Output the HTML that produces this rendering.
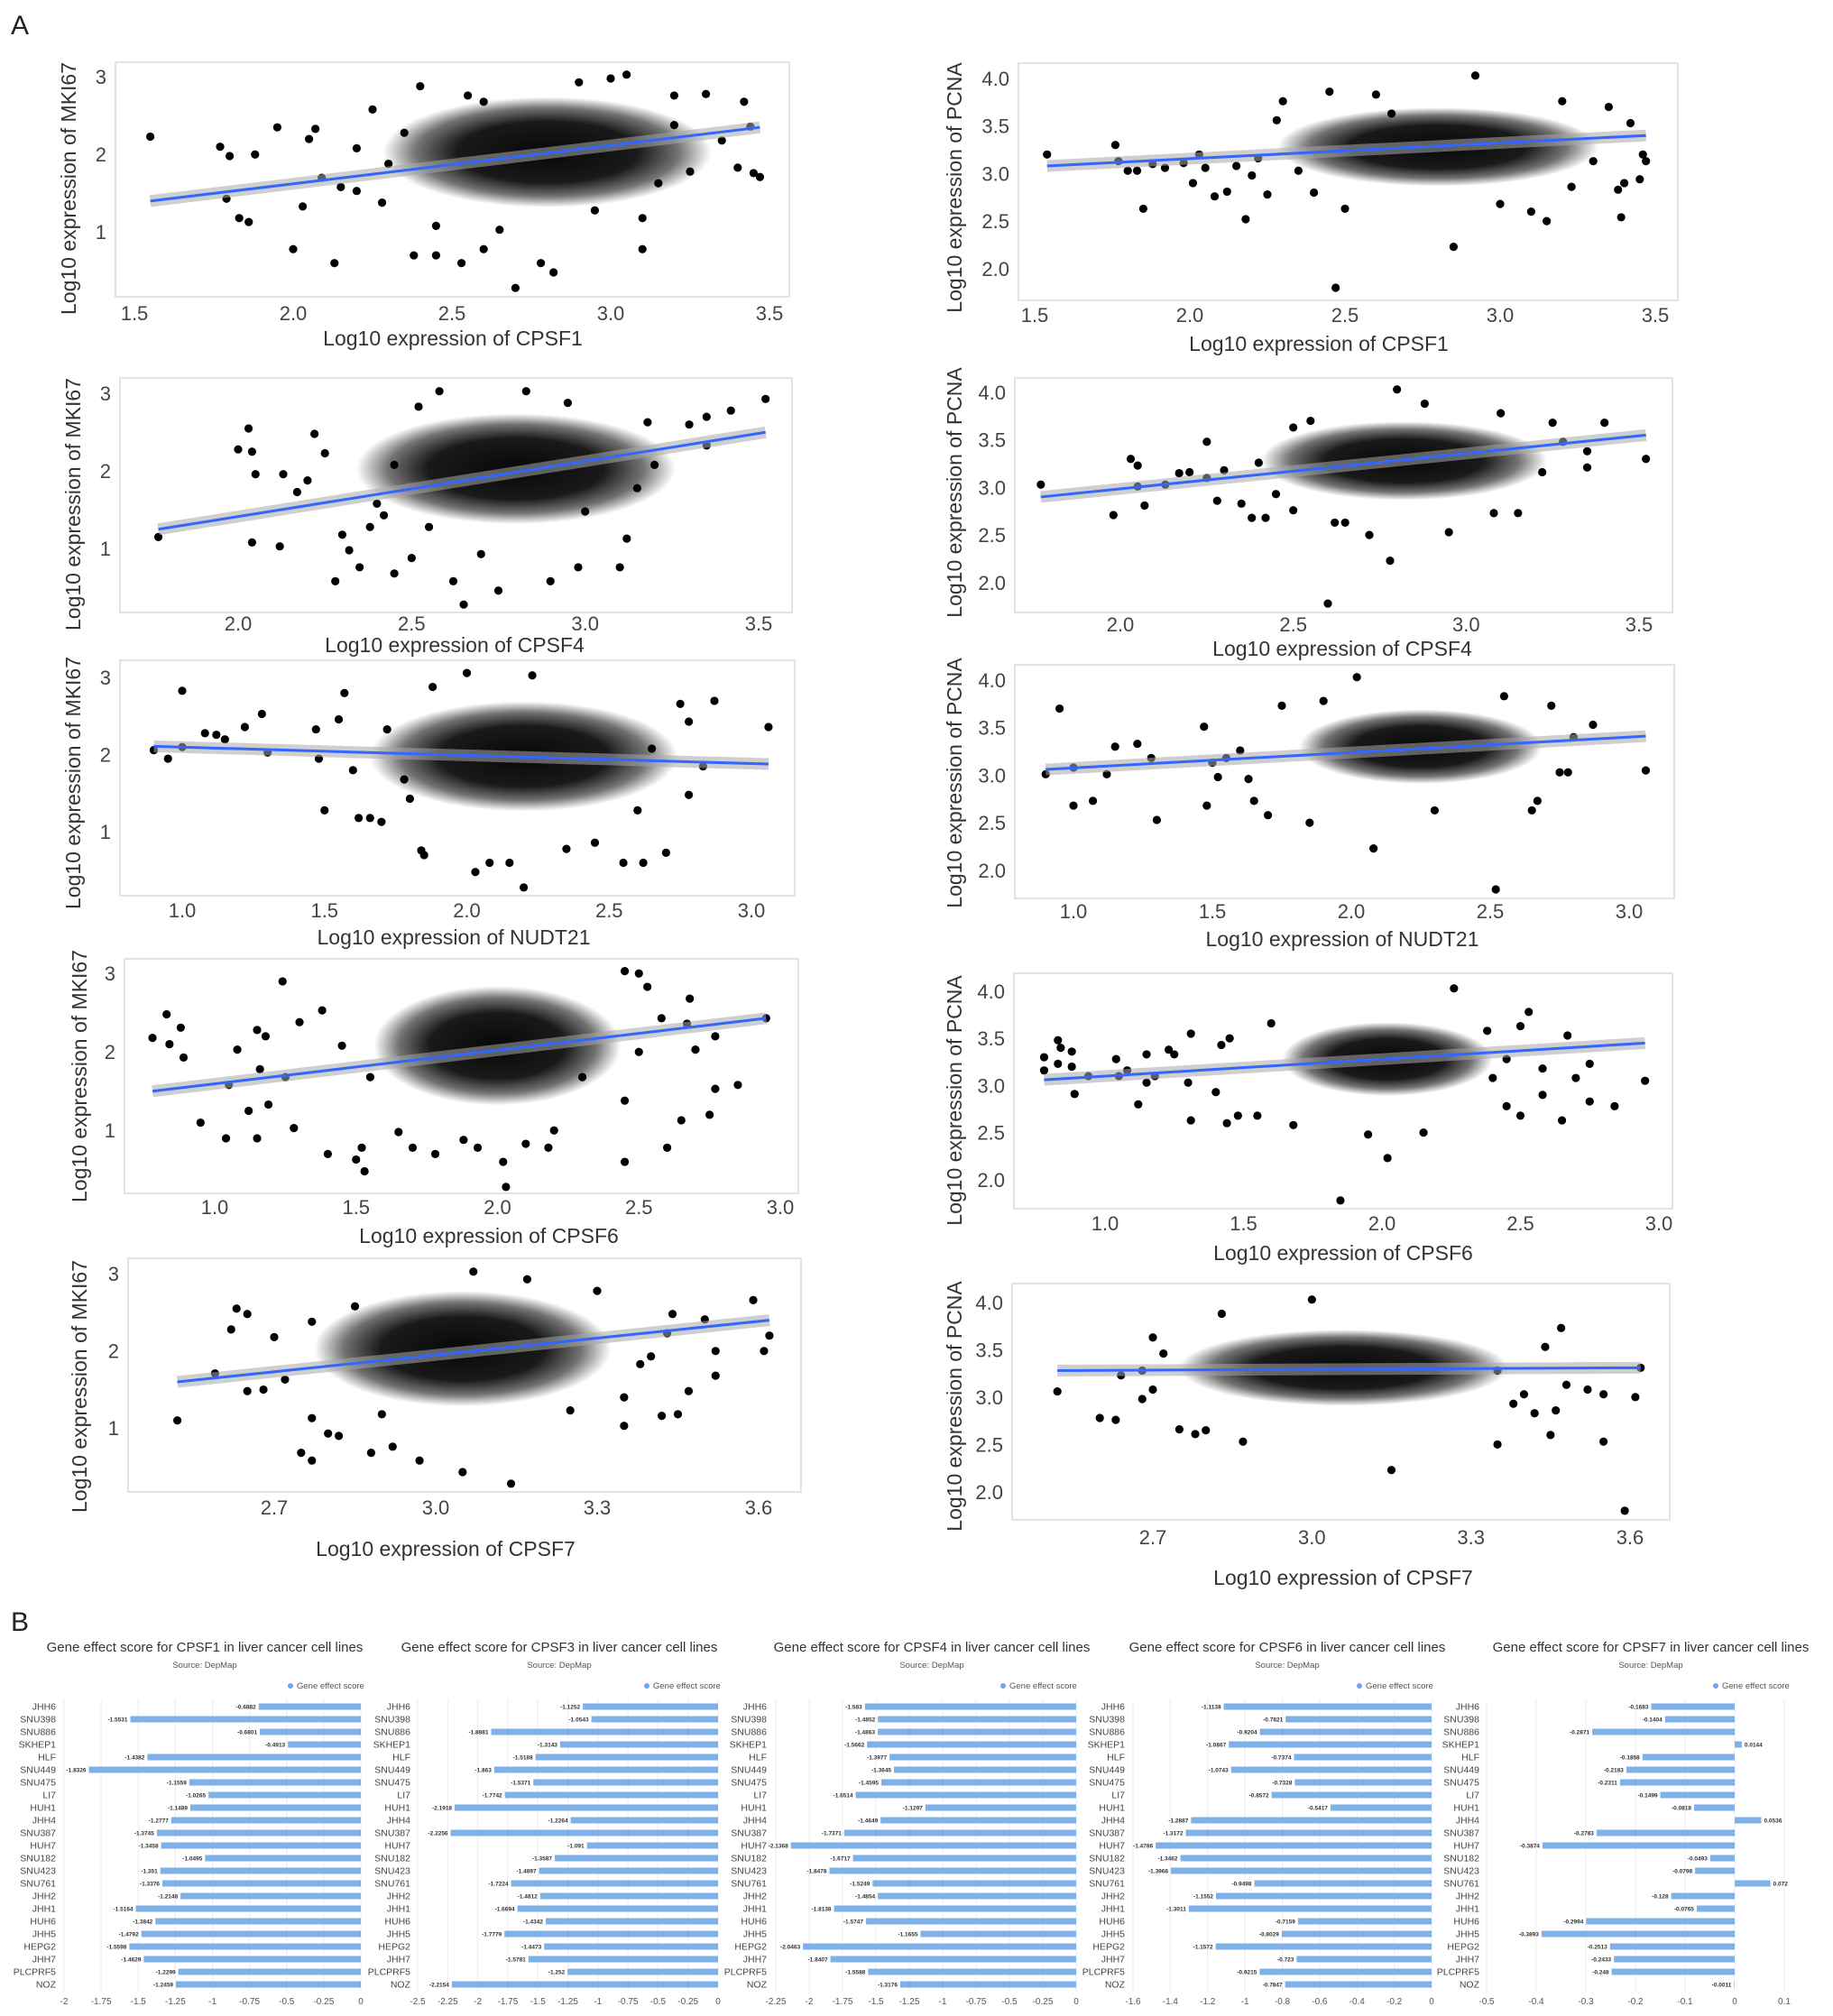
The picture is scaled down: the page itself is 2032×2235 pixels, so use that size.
<!DOCTYPE html>
<html><head><meta charset="utf-8">
<style>
html,body{margin:0;padding:0;background:#fff;}
svg{display:block;font-family:"Liberation Sans",Arial,sans-serif;}
</style></head>
<body>
<svg id="fig" width="2032" height="2235" viewBox="0 0 2032 2235" xmlns="http://www.w3.org/2000/svg">
<defs>
<radialGradient id="cloud" cx="50%" cy="50%" r="50%">
<stop offset="0" stop-color="#000" stop-opacity="0.97"/>
<stop offset="0.55" stop-color="#000" stop-opacity="0.9"/>
<stop offset="0.8" stop-color="#000" stop-opacity="0.55"/>
<stop offset="1" stop-color="#000" stop-opacity="0"/>
</radialGradient>
</defs>
<text x="12" y="38" font-size="30" fill="#222">A</text>
<text x="12" y="1808" font-size="30" fill="#222">B</text>
<g id="scatters"></g>
<g id="bars"></g>
</svg>
<script>
// ---------- Scatter data (x, y in log10 units) ----------
const ptsL1=[[1.55,2.25],[1.77,2.12],[1.79,1.45],[1.8,2.0],[1.83,1.2],[1.86,1.15],[1.88,2.02],[1.95,2.37],[2.0,0.8],[2.03,1.35],[2.05,2.22],[2.07,2.35],[2.09,1.72],[2.13,0.62],[2.15,1.6],[2.2,1.55],[2.25,2.6],[2.28,1.4],[2.38,0.72],[2.4,2.9],[2.45,0.72],[2.53,0.62],[2.6,0.8],[2.7,0.3],[2.78,0.62],[2.82,0.5],[3.05,3.05],[3.1,0.8],[3.1,1.2],[3.2,2.78],[3.3,2.8],[3.42,2.7],[3.4,1.85],[3.45,1.78],[3.47,1.73],[3.44,2.38],[3.35,2.2],[2.55,2.78],[2.9,2.95],[3.0,3.0],[2.35,2.3],[2.3,1.9],[2.2,2.1],[2.45,1.1],[2.65,1.05],[2.95,1.3],[3.15,1.65],[3.25,1.8],[2.6,2.7],[3.2,2.4]];
const cloudL1=[2.8,2.05,0.45,0.62];
const lineL1=[1.55,1.42,3.47,2.37];
const ptsL2=[[1.77,1.17],[2.0,2.3],[2.03,2.57],[2.04,2.27],[2.04,1.1],[2.05,1.98],[2.12,1.05],[2.13,1.98],[2.17,1.75],[2.2,1.9],[2.22,2.5],[2.25,2.25],[2.28,0.6],[2.3,1.2],[2.32,1.0],[2.35,0.78],[2.38,1.3],[2.42,1.45],[2.45,0.7],[2.5,0.9],[2.52,2.85],[2.58,3.05],[2.62,0.6],[2.65,0.3],[2.75,0.48],[2.83,3.05],[2.9,0.6],[2.98,0.78],[3.1,0.78],[3.12,1.15],[3.18,2.65],[3.3,2.62],[3.35,2.35],[3.35,2.72],[3.42,2.8],[3.52,2.95],[3.15,1.8],[2.95,2.9],[2.7,0.95],[3.0,1.5],[2.45,2.1],[2.4,1.6],[2.55,1.3],[3.2,2.1]];
const cloudL2=[2.8,2.05,0.4,0.62];
const lineL2=[1.77,1.27,3.52,2.52];
const ptsL3=[[0.9,2.08],[0.95,1.97],[1.0,2.85],[1.0,2.12],[1.08,2.3],[1.12,2.28],[1.15,2.22],[1.22,2.38],[1.28,2.55],[1.3,2.05],[1.47,2.35],[1.48,1.97],[1.5,1.3],[1.55,2.48],[1.57,2.82],[1.6,1.82],[1.62,1.2],[1.66,1.2],[1.7,1.15],[1.72,2.35],[1.84,0.78],[1.85,0.72],[1.88,2.9],[2.0,3.08],[2.03,0.5],[2.08,0.62],[2.15,0.62],[2.2,0.3],[2.23,3.05],[2.35,0.8],[2.45,0.88],[2.55,0.62],[2.62,0.62],[2.7,0.75],[2.75,2.68],[2.78,2.45],[2.78,1.5],[2.83,1.87],[2.87,2.72],[3.06,2.38],[2.6,1.3],[1.78,1.7],[1.8,1.45],[2.65,2.1]];
const cloudL3=[2.2,2.0,0.47,0.62];
const lineL3=[0.9,2.13,3.06,1.9];
const ptsL4=[[0.78,2.2],[0.83,2.5],[0.84,2.12],[0.88,2.33],[0.89,1.95],[0.95,1.12],[1.04,0.92],[1.05,1.6],[1.08,2.05],[1.12,1.27],[1.15,0.92],[1.15,2.3],[1.16,1.8],[1.18,2.22],[1.19,1.35],[1.24,2.92],[1.25,1.7],[1.28,1.05],[1.3,2.4],[1.4,0.72],[1.38,2.55],[1.5,0.65],[1.52,0.8],[1.53,0.5],[1.65,1.0],[1.7,0.8],[1.78,0.72],[1.88,0.9],[1.93,0.8],[2.03,0.3],[2.02,0.62],[2.1,0.85],[2.18,0.8],[2.2,1.02],[2.45,3.05],[2.5,3.02],[2.53,2.85],[2.5,2.02],[2.45,1.4],[2.45,0.62],[2.58,2.45],[2.6,0.8],[2.65,1.15],[2.68,2.7],[2.7,2.05],[2.67,2.38],[2.75,1.22],[2.77,2.22],[2.77,1.55],[2.85,1.6],[2.95,2.45],[2.3,1.7],[1.55,1.7],[1.45,2.1]];
const cloudL4=[2.0,2.1,0.38,0.66];
const lineL4=[0.78,1.52,2.95,2.45];
const ptsL5=[[2.52,1.12],[2.59,1.73],[2.62,2.3],[2.63,2.57],[2.65,2.5],[2.65,1.5],[2.68,1.52],[2.7,2.2],[2.72,1.65],[2.75,0.7],[2.77,0.6],[2.77,1.15],[2.77,2.4],[2.8,0.95],[2.82,0.92],[2.88,0.7],[2.92,0.78],[2.97,0.6],[3.05,0.45],[3.07,3.05],[3.14,0.3],[3.17,2.95],[3.3,2.8],[3.35,1.05],[3.35,1.42],[3.38,1.85],[3.4,1.95],[3.42,1.18],[3.45,1.2],[3.43,2.25],[3.44,2.5],[3.47,1.5],[3.5,2.43],[3.52,2.02],[3.52,1.7],[3.59,2.68],[3.61,2.02],[3.62,2.22],[3.25,1.25],[2.85,2.6],[2.9,1.2]];
const cloudL5=[3.05,2.05,0.24,0.65];
const lineL5=[2.52,1.62,3.62,2.42];
const ptsR1=[[1.54,3.22],[1.76,3.32],[1.77,3.15],[1.8,3.05],[1.83,3.05],[1.85,2.65],[1.88,3.12],[1.92,3.08],[1.98,3.13],[2.01,2.92],[2.03,3.22],[2.05,3.08],[2.08,2.78],[2.12,2.83],[2.15,3.1],[2.18,2.54],[2.2,3.0],[2.22,3.18],[2.25,2.8],[2.28,3.58],[2.3,3.78],[2.35,3.05],[2.4,2.82],[2.45,3.88],[2.47,1.82],[2.5,2.65],[2.6,3.85],[2.85,2.25],[2.92,4.05],[3.0,2.7],[3.1,2.62],[3.15,2.52],[3.23,2.88],[3.3,3.15],[3.35,3.72],[3.38,2.85],[3.39,2.56],[3.4,2.92],[3.42,3.55],[3.45,2.96],[3.46,3.22],[3.47,3.15],[3.2,3.78],[2.65,3.65]];
const cloudR1=[2.8,3.3,0.45,0.36];
const lineR1=[1.54,3.1,3.47,3.42];
const ptsR2=[[1.77,3.05],[1.98,2.73],[2.03,3.32],[2.05,3.25],[2.05,3.03],[2.07,2.83],[2.13,3.05],[2.17,3.17],[2.2,3.18],[2.25,3.12],[2.25,3.5],[2.28,2.88],[2.3,3.2],[2.35,2.85],[2.38,2.7],[2.4,3.28],[2.42,2.7],[2.45,2.95],[2.5,2.78],[2.55,3.72],[2.6,1.8],[2.62,2.65],[2.65,2.65],[2.72,2.52],[2.78,2.25],[2.8,4.05],[2.88,3.9],[2.95,2.55],[3.08,2.75],[3.15,2.75],[3.22,3.18],[3.25,3.7],[3.28,3.5],[3.35,3.4],[3.35,3.23],[3.4,3.7],[3.52,3.32],[3.1,3.8],[2.5,3.65]];
const cloudR2=[2.82,3.3,0.36,0.36];
const lineR2=[1.77,2.92,3.52,3.57];
const ptsR3=[[0.9,3.03],[0.95,3.72],[1.0,3.1],[1.0,2.7],[1.07,2.75],[1.12,3.03],[1.15,3.32],[1.23,3.35],[1.28,3.2],[1.3,2.55],[1.47,3.53],[1.48,2.7],[1.5,3.15],[1.52,3.0],[1.55,3.2],[1.6,3.28],[1.63,2.98],[1.65,2.75],[1.7,2.6],[1.75,3.75],[1.85,2.52],[2.02,4.05],[2.08,2.25],[2.3,2.65],[2.52,1.82],[2.55,3.85],[2.65,2.65],[2.67,2.75],[2.72,3.75],[2.8,3.42],[2.87,3.55],[3.06,3.07],[2.75,3.05],[2.78,3.05],[1.9,3.8]];
const cloudR3=[2.25,3.32,0.38,0.34];
const lineR3=[0.9,3.08,3.06,3.43];
const ptsR4=[[0.78,3.32],[0.78,3.18],[0.83,3.5],[0.84,3.42],[0.83,3.25],[0.88,3.38],[0.88,3.22],[0.89,2.93],[0.94,3.12],[1.04,3.3],[1.05,3.12],[1.08,3.18],[1.12,2.82],[1.15,3.35],[1.15,3.05],[1.18,3.12],[1.23,3.4],[1.25,3.35],[1.3,3.05],[1.31,3.57],[1.31,2.65],[1.4,2.95],[1.42,3.45],[1.44,2.62],[1.45,3.52],[1.48,2.7],[1.55,2.7],[1.6,3.68],[1.68,2.6],[1.85,1.8],[1.95,2.5],[2.02,2.25],[2.15,2.52],[2.26,4.05],[2.38,3.6],[2.4,3.1],[2.45,2.8],[2.5,3.65],[2.53,3.8],[2.5,2.7],[2.58,3.2],[2.58,2.92],[2.65,2.65],[2.67,3.55],[2.7,3.1],[2.75,3.25],[2.75,2.85],[2.84,2.8],[2.95,3.07],[2.45,3.3]];
const cloudR4=[2.02,3.3,0.33,0.34];
const lineR4=[0.78,3.08,2.95,3.47];
const ptsR5=[[2.52,3.08],[2.6,2.8],[2.63,2.78],[2.64,3.25],[2.68,3.0],[2.7,3.65],[2.72,3.48],[2.75,2.68],[2.78,2.63],[2.8,2.67],[2.83,3.9],[2.87,2.55],[3.0,4.05],[3.15,2.25],[3.35,3.3],[3.35,2.52],[3.38,2.95],[3.4,3.05],[3.42,2.85],[3.44,3.55],[3.45,2.62],[3.46,2.88],[3.47,3.75],[3.48,3.15],[3.52,3.1],[3.55,3.05],[3.55,2.55],[3.59,1.82],[3.61,3.02],[3.62,3.33],[2.7,3.1],[2.68,3.3]];
const cloudR5=[3.06,3.33,0.27,0.35];
const lineR5=[2.52,3.3,3.62,3.33];
const xTicks1=[1.5,2.0,2.5,3.0,3.5];
const xTicks4=[2.0,2.5,3.0,3.5];
const xTicksN=[1.0,1.5,2.0,2.5,3.0];
const xTicks7=[2.7,3.0,3.3,3.6];
const yTicksM=[1,2,3];
const yTicksP=[2.0,2.5,3.0,3.5,4.0];

// ---------- Bar chart data ----------
const cellLines=["JHH6","SNU398","SNU886","SKHEP1","HLF","SNU449","SNU475","LI7","HUH1","JHH4","SNU387","HUH7","SNU182","SNU423","SNU761","JHH2","JHH1","HUH6","JHH5","HEPG2","JHH7","PLCPRF5","NOZ"];
const cpsf1Vals=[-0.6882,-1.5531,-0.6801,-0.4913,-1.4382,-1.8326,-1.1559,-1.0265,-1.1489,-1.2777,-1.3745,-1.3458,-1.0495,-1.351,-1.3376,-1.2148,-1.5164,-1.3842,-1.4792,-1.5598,-1.4629,-1.2299,-1.2459];
const cpsf3Vals=[-1.1252,-1.0543,-1.8881,-1.3143,-1.5188,-1.863,-1.5371,-1.7742,-2.1918,-1.2264,-2.2256,-1.091,-1.3587,-1.4897,-1.7224,-1.4812,-1.6694,-1.4342,-1.7779,-1.4473,-1.5781,-1.252,-2.2154];
const cpsf4Vals=[-1.583,-1.4852,-1.4863,-1.5662,-1.3977,-1.3645,-1.4595,-1.6514,-1.1297,-1.4649,-1.7371,-2.1368,-1.6717,-1.8478,-1.5249,-1.4854,-1.8138,-1.5747,-1.1655,-2.0463,-1.8407,-1.5588,-1.3176];
const cpsf6Vals=[-1.1138,-0.7821,-0.9204,-1.0867,-0.7374,-1.0743,-0.7328,-0.8572,-0.5417,-1.2887,-1.3172,-1.4786,-1.3462,-1.3968,-0.9498,-1.1552,-1.3011,-0.7159,-0.8029,-1.1572,-0.723,-0.9215,-0.7847];
const cpsf7Vals=[-0.1683,-0.1404,-0.2871,0.0144,-0.1858,-0.2183,-0.2311,-0.1499,-0.0818,0.0536,-0.2783,-0.3874,-0.0493,-0.0798,0.072,-0.128,-0.0765,-0.2994,-0.3893,-0.2513,-0.2433,-0.248,-0.0011];
const ticksC1=[-2,-1.75,-1.5,-1.25,-1,-0.75,-0.5,-0.25,0];
const ticksC3=[-2.5,-2.25,-2,-1.75,-1.5,-1.25,-1,-0.75,-0.5,-0.25,0];
const ticksC4=[-2.25,-2,-1.75,-1.5,-1.25,-1,-0.75,-0.5,-0.25,0];
const ticksC6=[-1.6,-1.4,-1.2,-1,-0.8,-0.6,-0.4,-0.2,0];
const ticksC7=[-0.5,-0.4,-0.3,-0.2,-0.1,0,0.1];

const NS="http://www.w3.org/2000/svg";
function mk(tag,attrs,parent){const e=document.createElementNS(NS,tag);for(const k in attrs)e.setAttribute(k,attrs[k]);parent.appendChild(e);return e;}

const scatterPanels=[
 {id:"mki67-cpsf1",pts:ptsL1,cloud:cloudL1,line:lineL1,box:[128,69,875,329],xc:[1.5,149,3.5,853],yc:[3,87,1,259],xt:xTicks1,yt:yTicksM,yd:0,tY:349,xl:"Log10 expression of CPSF1",xlp:[502,377],yl:"Log10 expression of MKI67",ylp:[78,209]},
 {id:"mki67-cpsf4",pts:ptsL2,cloud:cloudL2,line:lineL2,box:[133,419,878,679],xc:[2,264,3.5,841],yc:[3,438,1,610],xt:xTicks4,yt:yTicksM,yd:0,tY:693,xl:"Log10 expression of CPSF4",xlp:[504,717],yl:"Log10 expression of MKI67",ylp:[83,559]},
 {id:"mki67-nudt21",pts:ptsL3,cloud:cloudL3,line:lineL3,box:[133,732,881,993],xc:[1,202,3,833],yc:[3,753,1,924],xt:xTicksN,yt:yTicksM,yd:0,tY:1011,xl:"Log10 expression of NUDT21",xlp:[503,1041],yl:"Log10 expression of MKI67",ylp:[83,868]},
 {id:"mki67-cpsf6",pts:ptsL4,cloud:cloudL4,line:lineL4,box:[138,1063,885,1323],xc:[1,238,3,865],yc:[3,1081,1,1255],xt:xTicksN,yt:yTicksM,yd:0,tY:1340,xl:"Log10 expression of CPSF6",xlp:[542,1372],yl:"Log10 expression of MKI67",ylp:[90,1193]},
 {id:"mki67-cpsf7",pts:ptsL5,cloud:cloudL5,line:lineL5,box:[142,1395,888,1654],xc:[2.7,304,3.6,841],yc:[3,1414,1,1585],xt:xTicks7,yt:yTicksM,yd:0,tY:1673,xl:"Log10 expression of CPSF7",xlp:[494,1719],yl:"Log10 expression of MKI67",ylp:[90,1537]},
 {id:"pcna-cpsf1",pts:ptsR1,cloud:cloudR1,line:lineR1,box:[1129,70,1860,333],xc:[1.5,1147,3.5,1835],yc:[4,89,2,300],xt:xTicks1,yt:yTicksP,yd:1,tY:351,xl:"Log10 expression of CPSF1",xlp:[1462,383],yl:"Log10 expression of PCNA",ylp:[1060,208]},
 {id:"pcna-cpsf4",pts:ptsR2,cloud:cloudR2,line:lineR2,box:[1125,419,1854,679],xc:[2,1242,3.5,1817],yc:[4,437,2,648],xt:xTicks4,yt:yTicksP,yd:1,tY:694,xl:"Log10 expression of CPSF4",xlp:[1488,721],yl:"Log10 expression of PCNA",ylp:[1060,546]},
 {id:"pcna-nudt21",pts:ptsR3,cloud:cloudR3,line:lineR3,box:[1125,737,1856,996],xc:[1,1190,3,1806],yc:[4,756,2,967],xt:xTicksN,yt:yTicksP,yd:1,tY:1012,xl:"Log10 expression of NUDT21",xlp:[1488,1043],yl:"Log10 expression of PCNA",ylp:[1060,868]},
 {id:"pcna-cpsf6",pts:ptsR4,cloud:cloudR4,line:lineR4,box:[1124,1079,1854,1340],xc:[1,1225,3,1839],yc:[4,1101,2,1310],xt:xTicksN,yt:yTicksP,yd:1,tY:1358,xl:"Log10 expression of CPSF6",xlp:[1489,1391],yl:"Log10 expression of PCNA",ylp:[1060,1220]},
 {id:"pcna-cpsf7",pts:ptsR5,cloud:cloudR5,line:lineR5,box:[1122,1423,1851,1685],xc:[2.7,1278,3.6,1807],yc:[4,1446,2,1656],xt:xTicks7,yt:yTicksP,yd:1,tY:1706,xl:"Log10 expression of CPSF7",xlp:[1489,1751],yl:"Log10 expression of PCNA",ylp:[1060,1559]}
];

const sRoot=document.getElementById("scatters");
scatterPanels.forEach(p=>{
  const g=mk("g",{},sRoot);
  
  
  const sx=v=>p.xc[1]+(v-p.xc[0])*(p.xc[3]-p.xc[1])/(p.xc[2]-p.xc[0]);
  const sy=v=>p.yc[1]+(v-p.yc[0])*(p.yc[3]-p.yc[1])/(p.yc[2]-p.yc[0]);
  const [x0,y0,x1,y1]=p.box;
  const frame=mk("rect",{x:x0,y:y0,width:x1-x0,height:y1-y0,fill:"#fff",stroke:"#e3e3e3","stroke-width":2},g);
  
  
  p.xt.forEach(t=>{
    const e=mk("text",{x:sx(t),y:p.tY,"font-size":22,fill:"#444","text-anchor":"middle","dominant-baseline":"middle"},g);
    e.textContent=t.toFixed(1);
    
    
  });
  p.yt.forEach(t=>{
    const e=mk("text",{x:x0-10,y:sy(t),"font-size":22,fill:"#444","text-anchor":"end","dominant-baseline":"middle"},g);
    e.textContent=t.toFixed(p.yd);
    
    
  });
  const xl=mk("text",{x:p.xlp[0],y:p.xlp[1],"font-size":23,fill:"#333","text-anchor":"middle","dominant-baseline":"middle"},g);
  xl.textContent=p.xl;
  
  
  const yl=mk("text",{x:0,y:0,"font-size":23,fill:"#333","text-anchor":"middle","dominant-baseline":"middle",transform:`translate(${p.ylp[0]},${p.ylp[1]}) rotate(-90)`},g);
  yl.textContent=p.yl;
  
  
  const c=p.cloud;
  const rx=Math.abs(sx(c[0]+c[2])-sx(c[0]))*1.15, ry=Math.abs(sy(c[1]+c[3])-sy(c[1]))*1.15;
  const cl=mk("ellipse",{cx:sx(c[0]),cy:sy(c[1]),rx:rx,ry:ry,fill:"url(#cloud)"},g);
  
  
  p.pts.forEach(q=>{
    const d=mk("circle",{cx:sx(q[0]),cy:sy(q[1]),r:4.6,fill:"#000"},g);
    
    
  });
  const L=p.line;
  const band=mk("line",{x1:sx(L[0]),y1:sy(L[1]),x2:sx(L[2]),y2:sy(L[3]),stroke:"#a8a8a8","stroke-opacity":0.55,"stroke-width":13},g);
  
  
  const ln=mk("line",{x1:sx(L[0]),y1:sy(L[1]),x2:sx(L[2]),y2:sy(L[3]),stroke:"#3366ff","stroke-width":3},g);
  
  
});

// ---------- Bar charts ----------
const barCharts=[
 {gene:"CPSF1",vals:cpsf1Vals,ticks:ticksC1,vmin:-2,vmax:0,px0:71,px1:400,labR:62,titleX:227,legX:322},
 {gene:"CPSF3",vals:cpsf3Vals,ticks:ticksC3,vmin:-2.5,vmax:0,px0:463,px1:796,labR:455,titleX:620,legX:717},
 {gene:"CPSF4",vals:cpsf4Vals,ticks:ticksC4,vmin:-2.25,vmax:0,px0:860,px1:1193,labR:850,titleX:1033,legX:1112},
 {gene:"CPSF6",vals:cpsf6Vals,ticks:ticksC6,vmin:-1.6,vmax:0,px0:1256,px1:1587,labR:1247,titleX:1427,legX:1507},
 {gene:"CPSF7",vals:cpsf7Vals,ticks:ticksC7,vmin:-0.5,vmax:0.1,px0:1648,px1:1978,labR:1640,titleX:1830,legX:1902}
];
const bRoot=document.getElementById("bars");
const rowTop=1892,rowStep=14;
barCharts.forEach(c=>{
  const g=mk("g",{},bRoot);
  
  
  const sx=v=>c.px0+(v-c.vmin)*(c.px1-c.px0)/(c.vmax-c.vmin);
  const t=mk("text",{x:c.titleX,y:1831,"font-size":15,fill:"#333","text-anchor":"middle"},g);
  t.textContent="Gene effect score for "+c.gene+" in liver cancer cell lines";
  
  
  const s=mk("text",{x:c.titleX,y:1849,"font-size":9.5,fill:"#555","text-anchor":"middle"},g);
  s.textContent="Source: DepMap";
  
  
  const lg=mk("g",{},g);
  
  
  mk("circle",{cx:c.legX,cy:1869,r:3,fill:"#6fa8e8"},lg);
  const lt=mk("text",{x:c.legX+7,y:1872,"font-size":9.5,fill:"#555"},lg);
  lt.textContent="Gene effect score";
  c.ticks.forEach(v=>{
    const gl=mk("line",{x1:sx(v),x2:sx(v),y1:1884,y2:2208,stroke:"#ececec","stroke-width":1},g);
    
    
    const tl=mk("text",{x:sx(v),y:2222,"font-size":10,fill:"#555","text-anchor":"middle"},g);
    tl.textContent=String(v);
    
    
  });
  const zero=sx(0);
  cellLines.forEach((name,i)=>{
    const y=rowTop+i*rowStep;
    const lb=mk("text",{x:c.labR,y:y+3.5,"font-size":10.5,fill:"#444","text-anchor":"end"},g);
    lb.textContent=name;
    
    
    const v=c.vals[i];
    const xv=sx(v);
    const b=mk("rect",{x:Math.min(xv,zero),y:y-3.5,width:Math.abs(zero-xv),height:7,fill:"#7db1e8"},g);
    
    
    const vl=mk("text",{x:v<0?xv-3:xv+3,y:y+2.5,"font-size":6.5,"font-weight":"bold",fill:"#333","text-anchor":v<0?"end":"start"},g);
    vl.textContent=String(v);
    
    
  });
});
</script>
</body></html>
